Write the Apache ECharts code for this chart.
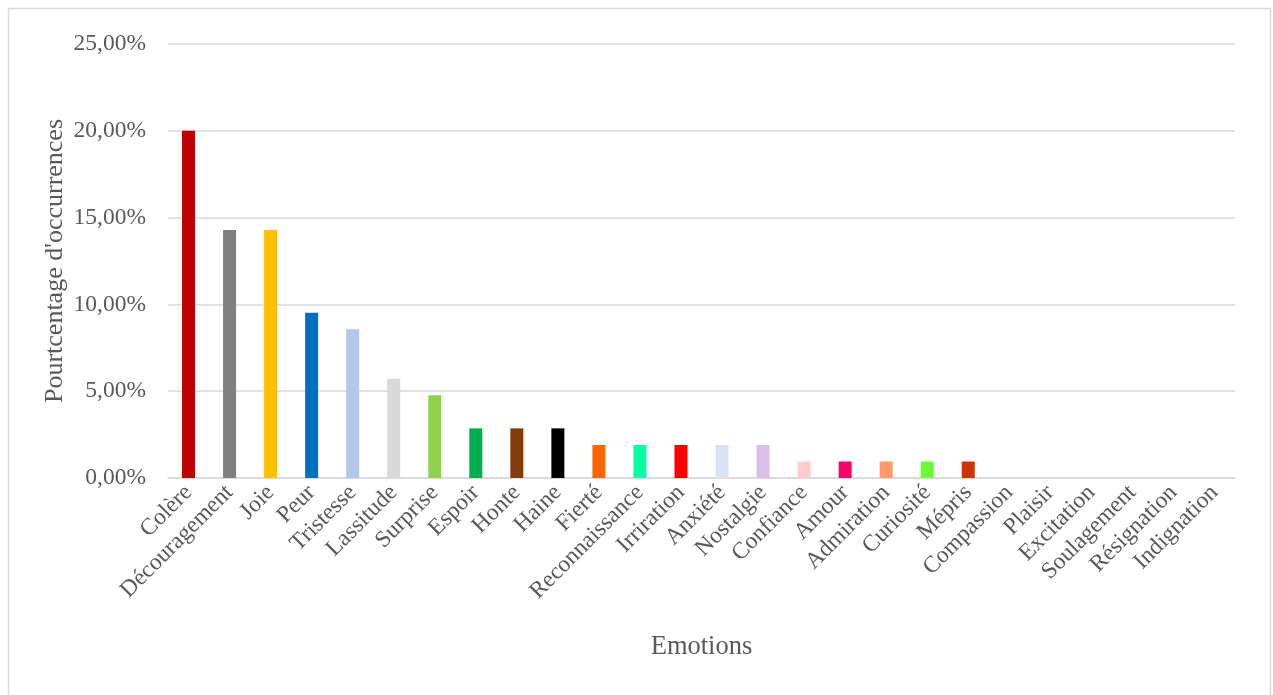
<!DOCTYPE html>
<html><head><meta charset="utf-8">
<script src="https://cdn.jsdelivr.net/npm/echarts@6/dist/echarts.min.js"></script>
<style>html,body{margin:0;padding:0;background:#fff}#c{width:1273px;height:695px}</style>
</head><body><div id="c"></div>
<script>
var categories = ["Colère","Découragement","Joie","Peur","Tristesse","Lassitude","Surprise","Espoir","Honte","Haine","Fierté","Reconnaissance","Irriration","Anxiété","Nostalgie","Confiance","Amour","Admiration","Curiosité","Mépris","Compassion","Plaisir","Excitation","Soulagement","Résignation","Indignation"];
var values = [20.00,14.29,14.29,9.52,8.57,5.71,4.76,2.86,2.86,2.86,1.90,1.90,1.90,1.90,1.90,0.95,0.95,0.95,0.95,0.95,0,0,0,0,0,0];
var colors = ["#C00000","#808080","#FFC000","#0070C0","#B4C7E7","#D9D9D9","#92D050","#00B050","#843C0C","#000000","#FF6600","#06FFA5","#FF0000","#DAE3F3","#D9BFEA","#FFCCCC","#FF0066","#FF9966","#66FF33","#CC3300","#cccccc","#cccccc","#cccccc","#cccccc","#cccccc","#cccccc"];
var yTicks = {min:0, max:25, interval:5};
var font = "'Liberation Serif','Times New Roman',serif";
var chart = echarts.init(document.getElementById('c'));
chart.setOption({
  animation:false,
  graphic:[{type:'rect',shape:{x:8.5,y:8.5,width:1262,height:700},style:{fill:'none',stroke:'#d9d9d9',lineWidth:1.5}}],
  grid:{left:168,right:38,top:44,bottom:217},
  xAxis:{type:'category',data:categories,
    name:'Emotions',nameLocation:'middle',nameGap:156,nameMoveOverlap:false,
    nameTextStyle:{fontFamily:font,fontSize:26.5,color:'#595959'},
    axisLine:{lineStyle:{color:'#d9d9d9',width:1.5}},axisTick:{show:false},
    axisLabel:{rotate:45,interval:0,fontFamily:font,fontSize:23.5,color:'#595959',margin:11}},
  yAxis:{type:'value',min:yTicks.min,max:yTicks.max,interval:yTicks.interval,
    name:"Pourtcentage d'occurrences",nameLocation:'middle',nameGap:100,nameMoveOverlap:false,
    nameTextStyle:{fontFamily:font,fontSize:26,color:'#595959'},
    axisLine:{show:false},axisTick:{show:false},
    splitLine:{lineStyle:{color:'#d9d9d9',width:1.5}},
    axisLabel:{fontFamily:font,fontSize:23.5,color:'#595959',margin:22,
      formatter:function(v){return v.toFixed(2).replace('.',',')+'%';}}},
  series:[{type:'bar',barWidth:13,
    data:values.map(function(v,i){return {value:v,itemStyle:{color:colors[i]}};})}]
});
</script></body></html>
